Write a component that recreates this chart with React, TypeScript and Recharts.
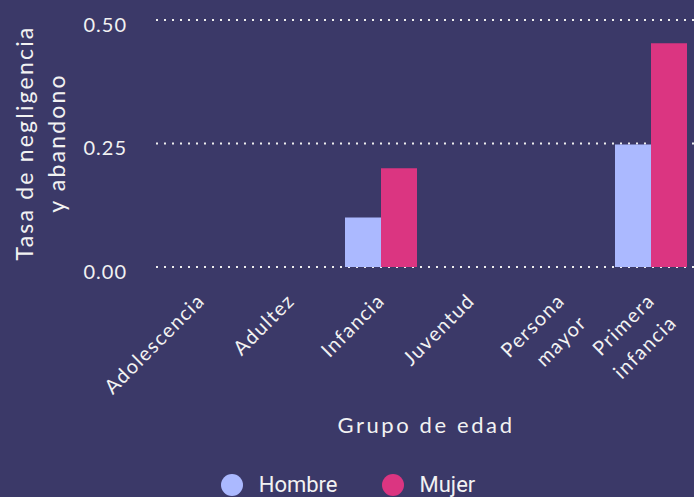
import { BarChart, Bar, XAxis, YAxis, CartesianGrid, Legend, Label } from "recharts";

const categories = ["Adolescencia", "Adultez", "Infancia", "Juventud", "Persona mayor", "Primera infancia"];
const hombre = [0, 0, 0.1, 0, 0, 0.248];
const mujer = [0, 0, 0.2, 0, 0, 0.453];
const yTicks = [0, 0.25, 0.5];

const seriesNames = ["Hombre", "Mujer"];
const seriesColors = ["#abb9ff", "#db3581"];

const BG = "#3b3968";
const TEXT = "#f2f2f2";
const AXIS_FONT = "Lato, 'Open Sans', sans-serif";

const data = categories.map((c, i) => ({ grupo: c, Hombre: hombre[i], Mujer: mujer[i] }));

const XTick = ({ x, y, payload }: any) => {
  const lines = String(payload.value).split(" ");
  return (
    <g transform={`translate(${x + 5},${y + 35}) rotate(-45)`}>
      <text textAnchor="end" fill={TEXT} fontSize={20} fontFamily={AXIS_FONT} letterSpacing={1.4}>
        {lines.map((l, i) => (
          <tspan key={i} x={0} dy={i === 0 ? 0 : 31}>
            {l}
          </tspan>
        ))}
      </text>
    </g>
  );
};

const YTick = ({ y, payload }: any) => (
  <text x={127} y={y + 11.5} textAnchor="end" fill={TEXT} fontSize={20} fontFamily={AXIS_FONT} letterSpacing={1}>
    {Number(payload.value).toFixed(2)}
  </text>
);

const YTitle = () => (
  <g fill={TEXT} fontSize={23} fontFamily={AXIS_FONT} letterSpacing={2.2}>
    <text x={33} y={143} transform="rotate(-90 33 143)" textAnchor="middle">
      Tasa de negligencia
    </text>
    <text x={65} y={143} transform="rotate(-90 65 143)" textAnchor="middle">
      y abandono
    </text>
  </g>
);

const XTitle = ({ viewBox }: any) => (
  <text
    x={viewBox ? viewBox.x + viewBox.width / 2 : 426}
    y={433}
    textAnchor="middle"
    fill={TEXT}
    fontSize={22}
    fontFamily={AXIS_FONT}
    letterSpacing={2.6}
  >
    Grupo de edad
  </text>
);

const LegendContent = () => (
  <div
    style={{
      display: "flex",
      justifyContent: "center",
      alignItems: "center",
      height: 25,
      gap: 44,
      fontFamily: "Roboto, sans-serif",
      fontSize: 22,
      color: TEXT,
    }}
  >
    {seriesNames.map((n, i) => (
      <div key={n} style={{ display: "flex", alignItems: "center", gap: 16 }}>
        <span style={{ width: 22, height: 22, borderRadius: "50%", background: seriesColors[i], display: "inline-block" }} />
        <span>{n}</span>
      </div>
    ))}
  </div>
);

export default function App() {
  return (
    <div
      style={{
        position: "fixed",
        top: 0,
        left: 0,
        width: 694,
        height: 497,
        overflow: "hidden",
        background: BG,
      }}
    >
      <BarChart
        width={700}
        height={497}
        data={data}
        margin={{ top: 20, right: 4, bottom: 0, left: 0 }}
        barCategoryGap="10%"
        barGap={0}
      >
        <CartesianGrid vertical={false} stroke="#eeeeee" strokeWidth={2} strokeDasharray="2 6" />
        <XAxis
          dataKey="grupo"
          axisLine={false}
          tickLine={false}
          tickSize={0}
          tickMargin={0}
          height={205}
          interval={0}
          tick={<XTick />}
        >
          <Label content={<XTitle />} />
        </XAxis>
        <YAxis
          width={156}
          domain={[0, 0.5]}
          ticks={yTicks}
          axisLine={false}
          tickLine={false}
          tick={<YTick />}
        >
          <Label content={<YTitle />} />
        </YAxis>
        <Legend verticalAlign="bottom" height={25} content={<LegendContent />} />
        {seriesNames.map((n, i) => (
          <Bar key={n} dataKey={n} fill={seriesColors[i]} isAnimationActive={false} />
        ))}
      </BarChart>
    </div>
  );
}
